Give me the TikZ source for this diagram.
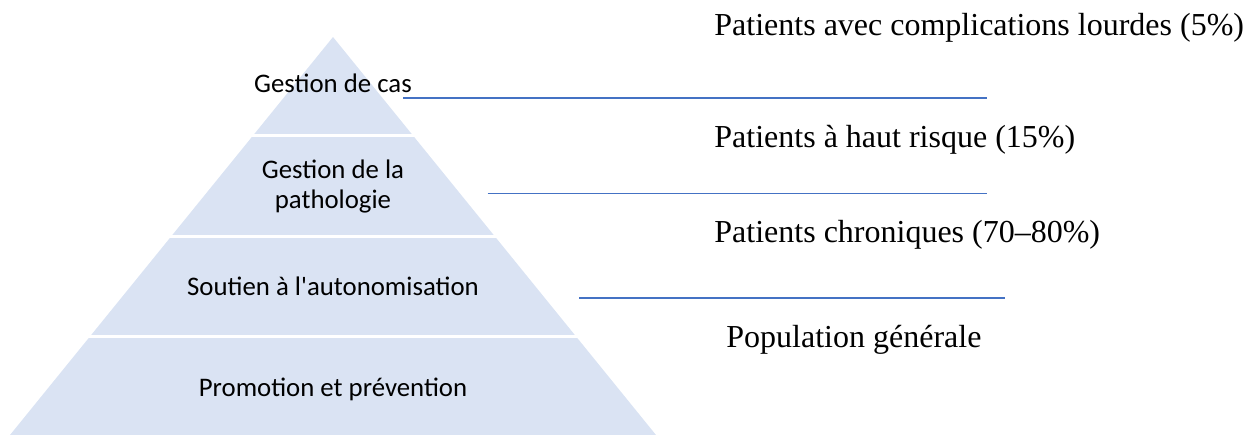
\documentclass[tikz,border=0pt]{standalone}
\usepackage{fontspec}
\setmainfont{Liberation Serif}
\newfontfamily\calib{Carlito}
\usepackage{tikz}
\definecolor{bandblue}{HTML}{DAE3F3}
\definecolor{lineblue}{HTML}{4472C4}

\begin{document}
\begin{tikzpicture}[x=0.5pt, y=-0.5pt,
    lvl/.style={inner sep=0pt, anchor=base, align=center,
      font=\calib\fontsize{13.4}{15}\selectfont},
    grp/.style={inner sep=0pt, anchor=base west,
      font=\fontsize{16}{18}\selectfont},
    sep/.style={lineblue, line width=0.85pt}]
    \useasboundingbox (0,0) rectangle (1256,435);

    % pyramid, cut in four bands
    \begin{scope}
    \clip (333,37) -- (10,435) -- (656,435) -- cycle;
    \fill[bandblue] (0,37) rectangle (700,134.3);
    \fill[bandblue] (0,137) rectangle (700,235);
    \fill[bandblue] (0,237.7) rectangle (700,335.3);
    \fill[bandblue] (0,338.3) rectangle (700,435);
    \end{scope}

    \path
    (333,92.5) node[lvl] (cas) {Gestion de cas}
    (333,208) node[lvl] (patho) {Gestion de la\\pathologie}
    (333,295) node[lvl] (auto) {Soutien à l'autonomisation}
    (333,396) node[lvl] (prev) {Promotion et prévention};

    \path
    (714,35) node[grp] (lourd) {Patients avec complications lourdes (5\%)}
    (714,147) node[grp] (risque) {Patients à haut risque (15\%)}
    (714,242) node[grp] (chron) {Patients chroniques (70--80\%)}
    (726,347) node[grp] (pop) {Population générale};

    \coordinate (s1a) at (403,97.7);
    \coordinate (s1b) at (987,97.7);
    \coordinate (s2a) at (487.5,193.5);
    \coordinate (s2b) at (987,193.5);
    \coordinate (s3a) at (579,298.3);
    \coordinate (s3b) at (1005,298.3);

    \draw[sep] (s1a) -- (s1b);
    \draw[sep] (s2a) -- (s2b);
    \draw[sep] (s3a) -- (s3b);
\end{tikzpicture}
\end{document}
